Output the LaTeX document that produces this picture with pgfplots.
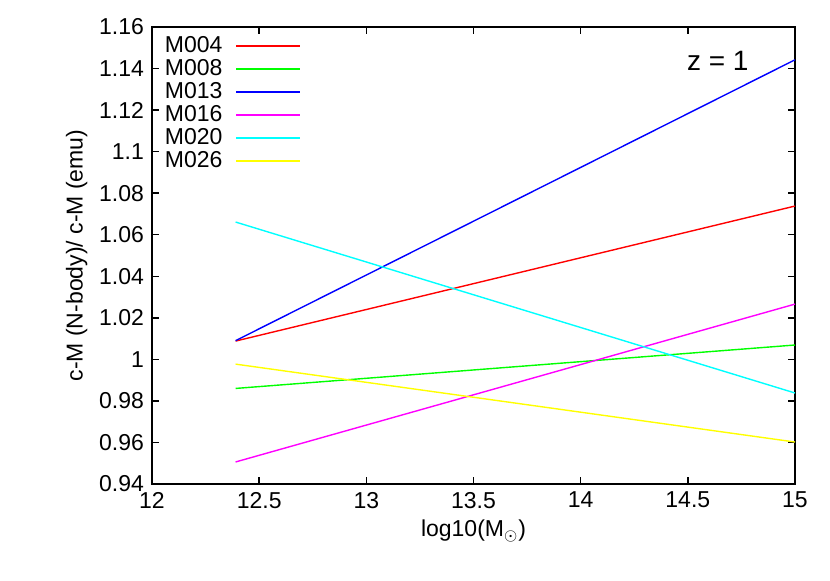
\documentclass[border=0pt]{standalone}
\usepackage{fontspec}
\setmainfont{Liberation Sans}
\usepackage{pgfplots}
\pgfplotsset{compat=1.18}
\definecolor{gred}{RGB}{255,0,0}
\definecolor{ggreen}{RGB}{0,255,0}
\definecolor{gblue}{RGB}{0,0,255}
\definecolor{gmagenta}{RGB}{255,0,255}
\definecolor{gcyan}{RGB}{0,255,255}
\definecolor{gyellow}{RGB}{255,255,0}
\begin{document}
\fontsize{11.5}{14}\selectfont
\begin{tikzpicture}
\begin{axis}[
    name=ax,
    scale only axis,
    width=321.5pt, height=228.5pt,
    xmin=12, xmax=15, ymin=0.94, ymax=1.16,
    xtick={12,12.5,...,15},
    ytick={0.94,0.96,...,1.16},
    tick align=inside,
    major tick length=3.5pt,
    axis line style={line width=0.75pt},
    every tick/.style={black, line width=0.75pt},
    xtick pos=both, ytick pos=both,
    /pgf/number format/assume math mode=true,
    /pgf/number format/.cd, fixed, precision=2, /pgfplots/.cd,
    xlabel={log10(M$_{\odot}$)},
    ylabel={c-M (N-body)/ c-M (emu)},
    xlabel style={yshift=2pt},
    ylabel style={yshift=-2pt},
    legend plot pos=right,
    legend cell align=left,
    legend style={at={(0.004,0.998)}, anchor=north west, draw=none, fill=none,
        row sep=-2.2pt, font=\fontsize{11.5}{14}\selectfont},
    legend image code/.code={\path (0pt,0pt);
        \draw[#1, line width=1pt] (4.5pt,0.25pt) -- (36.5pt,0.25pt);},
    every axis plot/.append style={line width=0.7pt},
]
\addplot[color=gred] coordinates {(12.39,1.0088) (15,1.0738)};
\addlegendentry{M004}
\addplot[color=ggreen] coordinates {(12.39,0.9860) (15,1.0069)};
\addlegendentry{M008}
\addplot[color=gblue] coordinates {(12.39,1.0090) (15,1.1442)};
\addlegendentry{M013}
\addplot[color=gmagenta] coordinates {(12.39,0.9506) (15,1.0266)};
\addlegendentry{M016}
\addplot[color=gcyan] coordinates {(12.39,1.0661) (15,0.9838)};
\addlegendentry{M020}
\addplot[color=gyellow] coordinates {(12.39,0.9977) (15,0.9602)};
\addlegendentry{M026}
\node[font=\fontsize{14}{16}\selectfont] at (axis cs:14.64,1.1435) {z = 1};
\end{axis}
\pgfresetboundingbox
\path[use as bounding box] (ax.south west) ++(-76pt,-48.5pt) rectangle ++(415pt,290.5pt);
\end{tikzpicture}
\end{document}
